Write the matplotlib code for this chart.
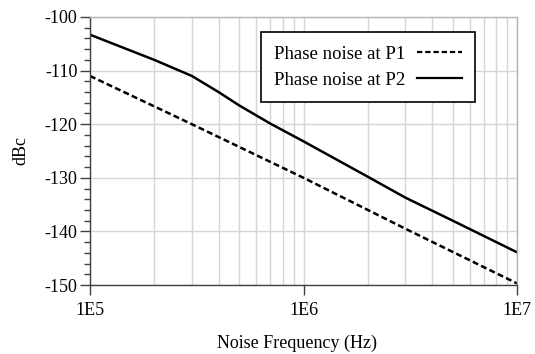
import numpy as np
import matplotlib
matplotlib.use('Agg')
import matplotlib.pyplot as plt
from matplotlib.ticker import LogLocator, MultipleLocator, NullFormatter, FixedLocator, FixedFormatter

## Phase noise curves read at a handful of offset frequencies [Hz, dBc]
freq_p1 = [1e5, 3e5, 1e6, 3e6, 1e7]
pn_p1 = [-111.0, -120.0, -130.0, -139.5, -149.7]

freq_p2 = [1e5, 2e5, 3e5, 4e5, 5e5, 7e5, 1e6, 2e6, 3e6, 5e6, 1e7]
pn_p2 = [-103.3, -108.0, -111.0, -114.0, -116.5, -119.9, -123.2, -129.8,
         -133.7, -138.0, -143.9]

x_ticks = [1e5, 1e6, 1e7]
x_ticklabels = ['1E5', '1E6', '1E7']

plt.rcParams['font.family'] = ['Liberation Serif', 'DejaVu Serif']
plt.rcParams['font.size'] = 13
plt.rcParams['axes.unicode_minus'] = False # plain hyphen on the dBc labels

fig = plt.figure(figsize=(5.35, 3.54), dpi=100)
ax = fig.add_axes([0.1682, 0.1949, 0.7982, 0.7571])

grid_col = '#d6d6d6'
axis_col = '#404040'

ax.plot(freq_p1, pn_p1, color='black', lw=1.8, ls=(0, (2.4, 1.3)),
        label='Phase noise at P1')
ax.plot(freq_p2, pn_p2, color='black', lw=1.8, ls='-',
        label='Phase noise at P2')

ax.set_xscale('log')
ax.set_xlim(1e5, 1e7)
ax.set_ylim(-150, -100)

# x axis: decades labelled, grid on every 1..9 multiple
ax.xaxis.set_major_locator(FixedLocator(x_ticks))
ax.xaxis.set_major_formatter(FixedFormatter(x_ticklabels))
ax.xaxis.set_minor_locator(LogLocator(base=10, subs=np.arange(2, 10), numticks=20))
ax.xaxis.set_minor_formatter(NullFormatter())
ax.tick_params(axis='x', which='major', direction='out', length=7, width=1,
               color=axis_col, pad=5)
ax.tick_params(axis='x', which='minor', length=0)

# y axis: labels every 10 dB, small ticks every 2 dB
ax.yaxis.set_major_locator(MultipleLocator(10))
ax.yaxis.set_minor_locator(MultipleLocator(2))
ax.tick_params(axis='y', which='major', direction='out', length=7, width=1,
               color=axis_col, pad=2)
ax.tick_params(axis='y', which='minor', direction='out', length=4, width=1,
               color=axis_col)

ax.grid(True, axis='x', which='both', color=grid_col, lw=1)
ax.grid(True, axis='y', which='major', color=grid_col, lw=1)
ax.set_axisbelow(True)

for side in ['left', 'bottom']:
    ax.spines[side].set_color(axis_col)
    ax.spines[side].set_linewidth(1)
for side in ['top', 'right']:
    ax.spines[side].set_color('#b4b4b4')
    ax.spines[side].set_linewidth(1)

ax.set_xlabel('Noise Frequency (Hz)')
ax.xaxis.set_label_coords(0.484, -0.185)
ax.set_ylabel('dBc', labelpad=11)

leg = ax.legend(loc='upper left', bbox_to_anchor=(0.401, 0.943),
                markerfirst=False, handlelength=2.4, handletextpad=0.6,
                borderpad=0.7, labelspacing=0.5, fancybox=False,
                framealpha=1, edgecolor='black', fontsize=13.5,
                borderaxespad=0)
leg.get_frame().set_linewidth(1.2)
for h in leg.get_lines():
    h.set_linewidth(1.6)

fig.savefig('out.png', dpi=100)
